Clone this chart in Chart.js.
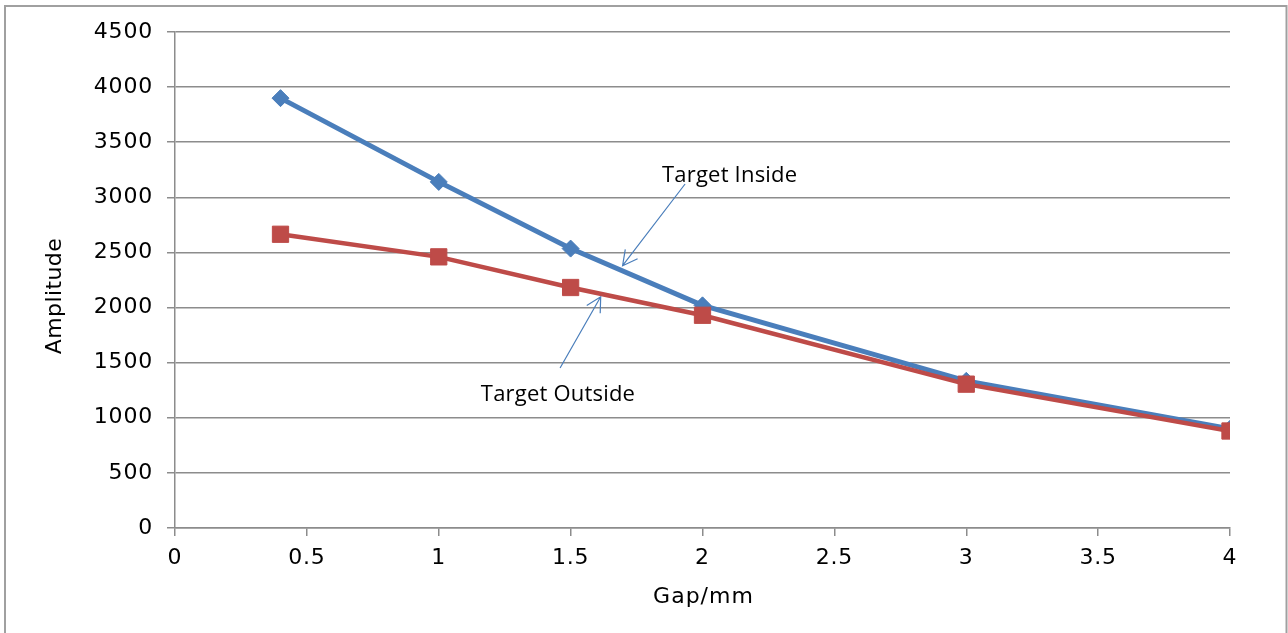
<!DOCTYPE html>
<html>
<head>
<meta charset="utf-8">
<script src="https://cdn.jsdelivr.net/npm/chart.js@4.4.1/dist/chart.umd.min.js"></script>
<style>
  html, body { margin: 0; padding: 0; background: #ffffff; }
  canvas { display: block; }
</style>
</head>
<body>
<canvas id="c" width="1288" height="633"></canvas>
<script>
// ---- data ----
const gapValues = [0.4, 1, 1.5, 2, 3, 4];
const insideAmplitude = [3900, 3140, 2535, 2020, 1335, 900];
const outsideAmplitude = [2665, 2460, 2182, 1930, 1305, 880];
const xTickValues = [0, 0.5, 1, 1.5, 2, 2.5, 3, 3.5, 4];
const yTickValues = [0, 500, 1000, 1500, 2000, 2500, 3000, 3500, 4000, 4500];
const seriesNames = ['Target Inside', 'Target Outside'];
const xTitle = 'Gap/mm';
const yTitle = 'Amplitude';

// annotation anchors in data units
const annotations = [
  { text: 'Target Inside', x: 2.103, y: 3135, from: [1.934, 3121], to: [1.697, 2380] },
  { text: 'Target Outside', x: 1.452, y: 1148, from: [1.460, 1452], to: [1.614, 2098] }
];

const BLUE = '#4a7ebb';
const RED = '#be4b48';
const GRID = '#8c8c8c';
const TICK_FONT = 'DejaVu Sans';

function toPoints(xs, ys) { return xs.map((x, i) => ({ x: x, y: ys[i] })); }

const framePlugin = {
  id: 'frame',
  beforeDraw(chart) {
    const ctx = chart.ctx;
    ctx.save();
    ctx.fillStyle = '#ffffff';
    ctx.fillRect(0, 0, chart.width, chart.height);
    ctx.strokeStyle = '#a0a0a0';
    ctx.lineWidth = 2;
    ctx.strokeRect(5, 6, 1281.5, 700);
    ctx.restore();
    try { ctx.letterSpacing = '0.8px'; } catch (e) {}
  },
  afterDraw(chart) {
    const ctx = chart.ctx;
    const xs = chart.scales.x, ys = chart.scales.y;
    const area = chart.chartArea;
    ctx.save();
    // axis titles
    ctx.fillStyle = '#000000';
    ctx.font = '22px "' + TICK_FONT + '"';
    try { ctx.letterSpacing = '1px'; } catch (e) {}
    ctx.textAlign = 'center';
    ctx.textBaseline = 'alphabetic';
    ctx.fillText(xTitle, (area.left + area.right) / 2 + 1, 603);
    ctx.save();
    try { ctx.letterSpacing = '0.4px'; } catch (e) {}
    ctx.translate(60.5, 296);
    ctx.rotate(-Math.PI / 2);
    ctx.fillText(yTitle, 0, 0);
    ctx.restore();

    // annotations
    try { ctx.letterSpacing = '0.2px'; } catch (e) {}
    ctx.font = '22px "Open Sans"';
    annotations.forEach(a => {
      ctx.fillStyle = '#000000';
      ctx.textAlign = 'center';
      ctx.fillText(a.text, xs.getPixelForValue(a.x), ys.getPixelForValue(a.y));
      const x1 = xs.getPixelForValue(a.from[0]), y1 = ys.getPixelForValue(a.from[1]);
      const x2 = xs.getPixelForValue(a.to[0]), y2 = ys.getPixelForValue(a.to[1]);
      ctx.strokeStyle = BLUE;
      ctx.lineWidth = 1.2;
      ctx.beginPath();
      ctx.moveTo(x1, y1);
      ctx.lineTo(x2, y2);
      const ang = Math.atan2(y1 - y2, x1 - x2);
      const L = 16.5, spread = 28 * Math.PI / 180;
      ctx.moveTo(x2 + L * Math.cos(ang - spread), y2 + L * Math.sin(ang - spread));
      ctx.lineTo(x2, y2);
      ctx.lineTo(x2 + L * Math.cos(ang + spread), y2 + L * Math.sin(ang + spread));
      ctx.stroke();
    });
    ctx.restore();
  }
};

new Chart(document.getElementById('c'), {
  type: 'scatter',
  data: {
    datasets: [
      {
        label: seriesNames[0],
        data: toPoints(gapValues, insideAmplitude),
        showLine: true,
        borderColor: BLUE,
        backgroundColor: BLUE,
        borderWidth: 5,
        pointStyle: 'rectRot',
        pointRadius: 8.5,
        pointBorderWidth: 1,
        pointBorderColor: BLUE,
        pointBackgroundColor: BLUE,
        order: 2
      },
      {
        label: seriesNames[1],
        data: toPoints(gapValues, outsideAmplitude),
        showLine: true,
        borderColor: RED,
        backgroundColor: RED,
        borderWidth: 4.5,
        pointStyle: 'rect',
        pointRadius: 11.5,
        pointBorderWidth: 1,
        pointBorderColor: RED,
        pointBackgroundColor: RED,
        order: 1
      }
    ]
  },
  options: {
    responsive: false,
    animation: false,
    layout: { padding: { left: 0, top: 32, right: 58, bottom: 0 } },
    plugins: { legend: { display: false }, tooltip: { enabled: false } },
    scales: {
      x: {
        type: 'linear',
        min: 0, max: 4,
        afterBuildTicks(scale) { scale.ticks = xTickValues.map(v => ({ value: v })); },
        afterFit(scale) { scale.height = 105; },
        ticks: {
          padding: 9,
          color: '#000000',
          font: { family: TICK_FONT, size: 22 },
          maxRotation: 0,
          autoSkip: false,
          callback: v => String(v)
        },
        grid: { drawOnChartArea: false, drawTicks: true, tickLength: 8, color: GRID, lineWidth: 1.5 },
        border: { color: GRID, width: 1.5 }
      },
      y: {
        type: 'linear',
        min: 0, max: 4500,
        afterBuildTicks(scale) { scale.ticks = yTickValues.map(v => ({ value: v })); },
        afterFit(scale) { scale.width = 175; },
        ticks: {
          padding: 14,
          color: '#000000',
          font: { family: TICK_FONT, size: 22 },
          autoSkip: false,
          callback: v => String(v)
        },
        grid: { drawTicks: true, tickLength: 8, color: GRID, lineWidth: 1.5 },
        border: { color: GRID, width: 1.5 }
      }
    }
  },
  plugins: [framePlugin]
});
</script>
</body>
</html>
